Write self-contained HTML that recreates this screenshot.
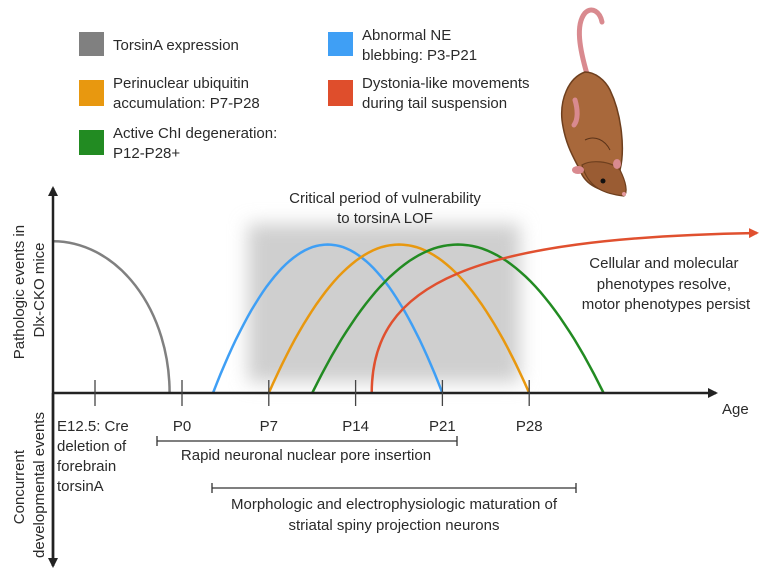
<!DOCTYPE html>
<html><head><meta charset="utf-8">
<style>
html,body{margin:0;padding:0;background:#fff;}
svg{display:block;font-family:"Liberation Sans",sans-serif;}
text{fill:#2a2a2a;}
</style></head>
<body>
<svg id="chart" width="773" height="574" viewBox="0 0 773 574" xmlns="http://www.w3.org/2000/svg">
<defs>
  <filter id="blur" x="-20%" y="-20%" width="140%" height="140%"><feGaussianBlur stdDeviation="9"/></filter>
  <marker id="arrowRed" markerWidth="10" markerHeight="10" refX="8" refY="5" orient="auto" markerUnits="userSpaceOnUse"><path d="M0,0 L10,5 L0,10 Z" fill="#e0502f"/></marker>
  <marker id="arrowBlk" markerWidth="10" markerHeight="10" refX="8" refY="5" orient="auto" markerUnits="userSpaceOnUse"><path d="M0,0 L10,5 L0,10 Z" fill="#222"/></marker>
</defs>

<g>
  <g>
    <rect x="79" y="32" width="25" height="24" fill="#808080"/>
    <text x="113" y="50" font-size="15">TorsinA expression</text>
  </g>
  <g>
    <rect x="79" y="80" width="25" height="26" fill="#e8980f"/>
    <text x="113" y="88" font-size="15">Perinuclear ubiquitin</text>
    <text x="113" y="108" font-size="15">accumulation: P7-P28</text>
  </g>
  <g>
    <rect x="79" y="130" width="25" height="25" fill="#228b22"/>
    <text x="113" y="138" font-size="15">Active ChI degeneration:</text>
    <text x="113" y="158" font-size="15">P12-P28+</text>
  </g>
  <g>
    <rect x="328" y="32" width="25" height="24" fill="#3f9ff5"/>
    <text x="362" y="40" font-size="15">Abnormal NE</text>
    <text x="362" y="60" font-size="15">blebbing: P3-P21</text>
  </g>
  <g>
    <rect x="328" y="80" width="25" height="26" fill="#df4e2c"/>
    <text x="362" y="88" font-size="15">Dystonia-like movements</text>
    <text x="362" y="108" font-size="15">during tail suspension</text>
  </g>
</g>

<g>
  <path d="M587,74 C580,50 575,25 585,13 C592,6 600,12 602,22" fill="none" stroke="#d98a8f" stroke-width="5" stroke-linecap="round"/>
  <path d="M585,72 C568,78 560,100 562,120 C565,145 575,160 580,170 C585,185 600,192 625,195 C628,188 622,180 620,170 C625,150 622,115 610,90 C605,80 595,72 585,72 Z" fill="#a8683b" stroke="#6e3f1e" stroke-width="1.5"/>
  <path d="M582,165 C590,160 610,160 620,170 C626,182 628,192 624,196 C605,194 588,188 582,165 Z" fill="#9a5c33" stroke="#6e3f1e" stroke-width="1.2"/>
  <path d="M575,100 C578,110 578,120 574,125" fill="none" stroke="#d98a8f" stroke-width="5" stroke-linecap="round"/>
  <ellipse cx="578" cy="170" rx="6" ry="4" fill="#d98a8f"/>
  <ellipse cx="617" cy="164" rx="4" ry="5" fill="#d98a8f"/>
  <circle cx="603" cy="181" r="2.5" fill="#111"/>
  <circle cx="624" cy="194" r="2" fill="#e59aa0"/>
  <path d="M585,140 C595,135 605,140 610,150" fill="none" stroke="#5a3218" stroke-width="1"/>
</g>

<rect x="248" y="224" width="272" height="158" fill="#cfcfcf" filter="url(#blur)"/>
<text x="385" y="203" font-size="15" text-anchor="middle">Critical period of vulnerability</text>
<text x="385" y="223" font-size="15" text-anchor="middle">to torsinA LOF</text>

<text font-size="15" text-anchor="middle">
  <tspan x="666" y="268">Cellular and molecular</tspan>
  <tspan x="666" y="289">phenotypes resolve,</tspan>
  <tspan x="666" y="309">motor phenotypes persist</tspan>
</text>

<g id="series"></g>

<line x1="53" y1="566" x2="53" y2="188" stroke="#222" stroke-width="2.5" marker-end="url(#arrowBlk)"/>
<line x1="53" y1="393" x2="53" y2="566" stroke="#222" stroke-width="2.5" marker-end="url(#arrowBlk)"/>
<line x1="53" y1="393" x2="716" y2="393" stroke="#222" stroke-width="2.5" marker-end="url(#arrowBlk)"/>
<text x="722" y="414" font-size="15">Age</text>
<g id="ticks"></g>

<text font-size="15" text-anchor="middle" transform="translate(0,290) rotate(-90)">
  <tspan x="0" y="24">Pathologic events in</tspan>
  <tspan x="0" y="44">Dlx-CKO mice</tspan>
</text>
<text font-size="15" text-anchor="middle" transform="translate(0,485) rotate(-90)">
  <tspan x="0" y="24">Concurrent</tspan>
  <tspan x="0" y="44">developmental events</tspan>
</text>

<text font-size="15">
  <tspan x="57" y="431">E12.5: Cre</tspan>
  <tspan x="57" y="451">deletion of</tspan>
  <tspan x="57" y="471">forebrain</tspan>
  <tspan x="57" y="491">torsinA</tspan>
</text>

<g>
  <line x1="157" y1="441" x2="457" y2="441" stroke="#333" stroke-width="1.3"/>
  <line x1="157" y1="436" x2="157" y2="446" stroke="#333" stroke-width="1.3"/>
  <line x1="457" y1="436" x2="457" y2="446" stroke="#333" stroke-width="1.3"/>
  <text x="306" y="460" font-size="15" text-anchor="middle">Rapid neuronal nuclear pore insertion</text>
</g>
<g>
  <line x1="212" y1="488" x2="576" y2="488" stroke="#333" stroke-width="1.3"/>
  <line x1="212" y1="483" x2="212" y2="493" stroke="#333" stroke-width="1.3"/>
  <line x1="576" y1="483" x2="576" y2="493" stroke="#333" stroke-width="1.3"/>
  <text x="394" y="509" font-size="15" text-anchor="middle">Morphologic and electrophysiologic maturation of</text>
  <text x="394" y="530" font-size="15" text-anchor="middle">striatal spiny projection neurons</text>
</g>
</svg>

<script>
const tickLabels = ["P0", "P7", "P14", "P21", "P28"];
const tickDays = [0, 7, 14, 21, 28];
const arcNames = ["ne-blebbing", "ubiquitin", "chi-degeneration"];
const arcStart = [2.5, 7, 10.5];
const arcEnd = [21, 28, 34];
const arcPeak = [0.9, 0.9, 0.9];
const arcColors = ["#3f9ff5", "#e8980f", "#228b22"];
const dystoniaStart = [15.3];
const dystoniaLevel = [0.97];
const torsinLevel = [0.92];
const torsinEndDay = [-1];

const NS = "http://www.w3.org/2000/svg";
const x0 = 182, pxPerDay = 12.4, yBase = 393, yTop = 228;
function xScale(d){ return x0 + d * pxPerDay; }
function yScale(v){ return yBase - v * (yBase - yTop); }

const ticksG = document.getElementById('ticks');
{
  const l = document.createElementNS(NS, 'line');
  l.setAttribute('x1', 95); l.setAttribute('x2', 95);
  l.setAttribute('y1', 380); l.setAttribute('y2', 406);
  l.setAttribute('stroke', '#444'); l.setAttribute('stroke-width', '1.3');
  
  
  ticksG.appendChild(l);
}
tickDays.forEach((d, i) => {
  const x = xScale(d);
  const l = document.createElementNS(NS, 'line');
  l.setAttribute('x1', x); l.setAttribute('x2', x);
  l.setAttribute('y1', 380); l.setAttribute('y2', 406);
  l.setAttribute('stroke', '#444'); l.setAttribute('stroke-width', '1.3');
  
  
  ticksG.appendChild(l);
  const t = document.createElementNS(NS, 'text');
  t.setAttribute('x', x); t.setAttribute('y', 431);
  t.setAttribute('font-size', '15'); t.setAttribute('text-anchor', 'middle');
  t.textContent = tickLabels[i];
  
  
  ticksG.appendChild(t);
});

const sg = document.getElementById('series');
{
  const xe = xScale(torsinEndDay[0]), yl = yScale(torsinLevel[0]);
  const p = document.createElementNS(NS, 'path');
  p.setAttribute('d', `M53,${yl} A${xe-53},${yBase-yl} 0 0 1 ${xe},${yBase}`);
  p.setAttribute('fill', 'none'); p.setAttribute('stroke', '#808080'); p.setAttribute('stroke-width', '2.5');
  
  
  sg.appendChild(p);
}
arcStart.forEach((s, i) => {
  const xs = xScale(s), xe = xScale(arcEnd[i]);
  const yp = yScale(arcPeak[i]);
  const p = document.createElementNS(NS, 'path');
  let d = '';
  for (let k = 0; k <= 60; k++) {
    const t = k / 60;
    const x = xs + (xe - xs) * t;
    const u = 2 * t - 1;
    const y = yBase - (yBase - yp) * (1 - u * u);
    d += (k ? 'L' : 'M') + x.toFixed(1) + ',' + y.toFixed(1);
  }
  p.setAttribute('d', d);
  p.setAttribute('fill', 'none'); p.setAttribute('stroke', arcColors[i]); p.setAttribute('stroke-width', '2.5');
  
  
  sg.appendChild(p);
});
{
  const xs = xScale(dystoniaStart[0]);
  const xe = 757, ye = yScale(dystoniaLevel[0]);
  const p = document.createElementNS(NS, 'path');
  p.setAttribute('d', `M${xs},${yBase} C${xs},${yBase-110} ${xs+100},${ye+5} ${xe},${ye}`);
  p.setAttribute('fill', 'none'); p.setAttribute('stroke', '#e0502f'); p.setAttribute('stroke-width', '2.5');
  p.setAttribute('marker-end', 'url(#arrowRed)');
  
  
  sg.appendChild(p);
}
</script>
</body></html>
